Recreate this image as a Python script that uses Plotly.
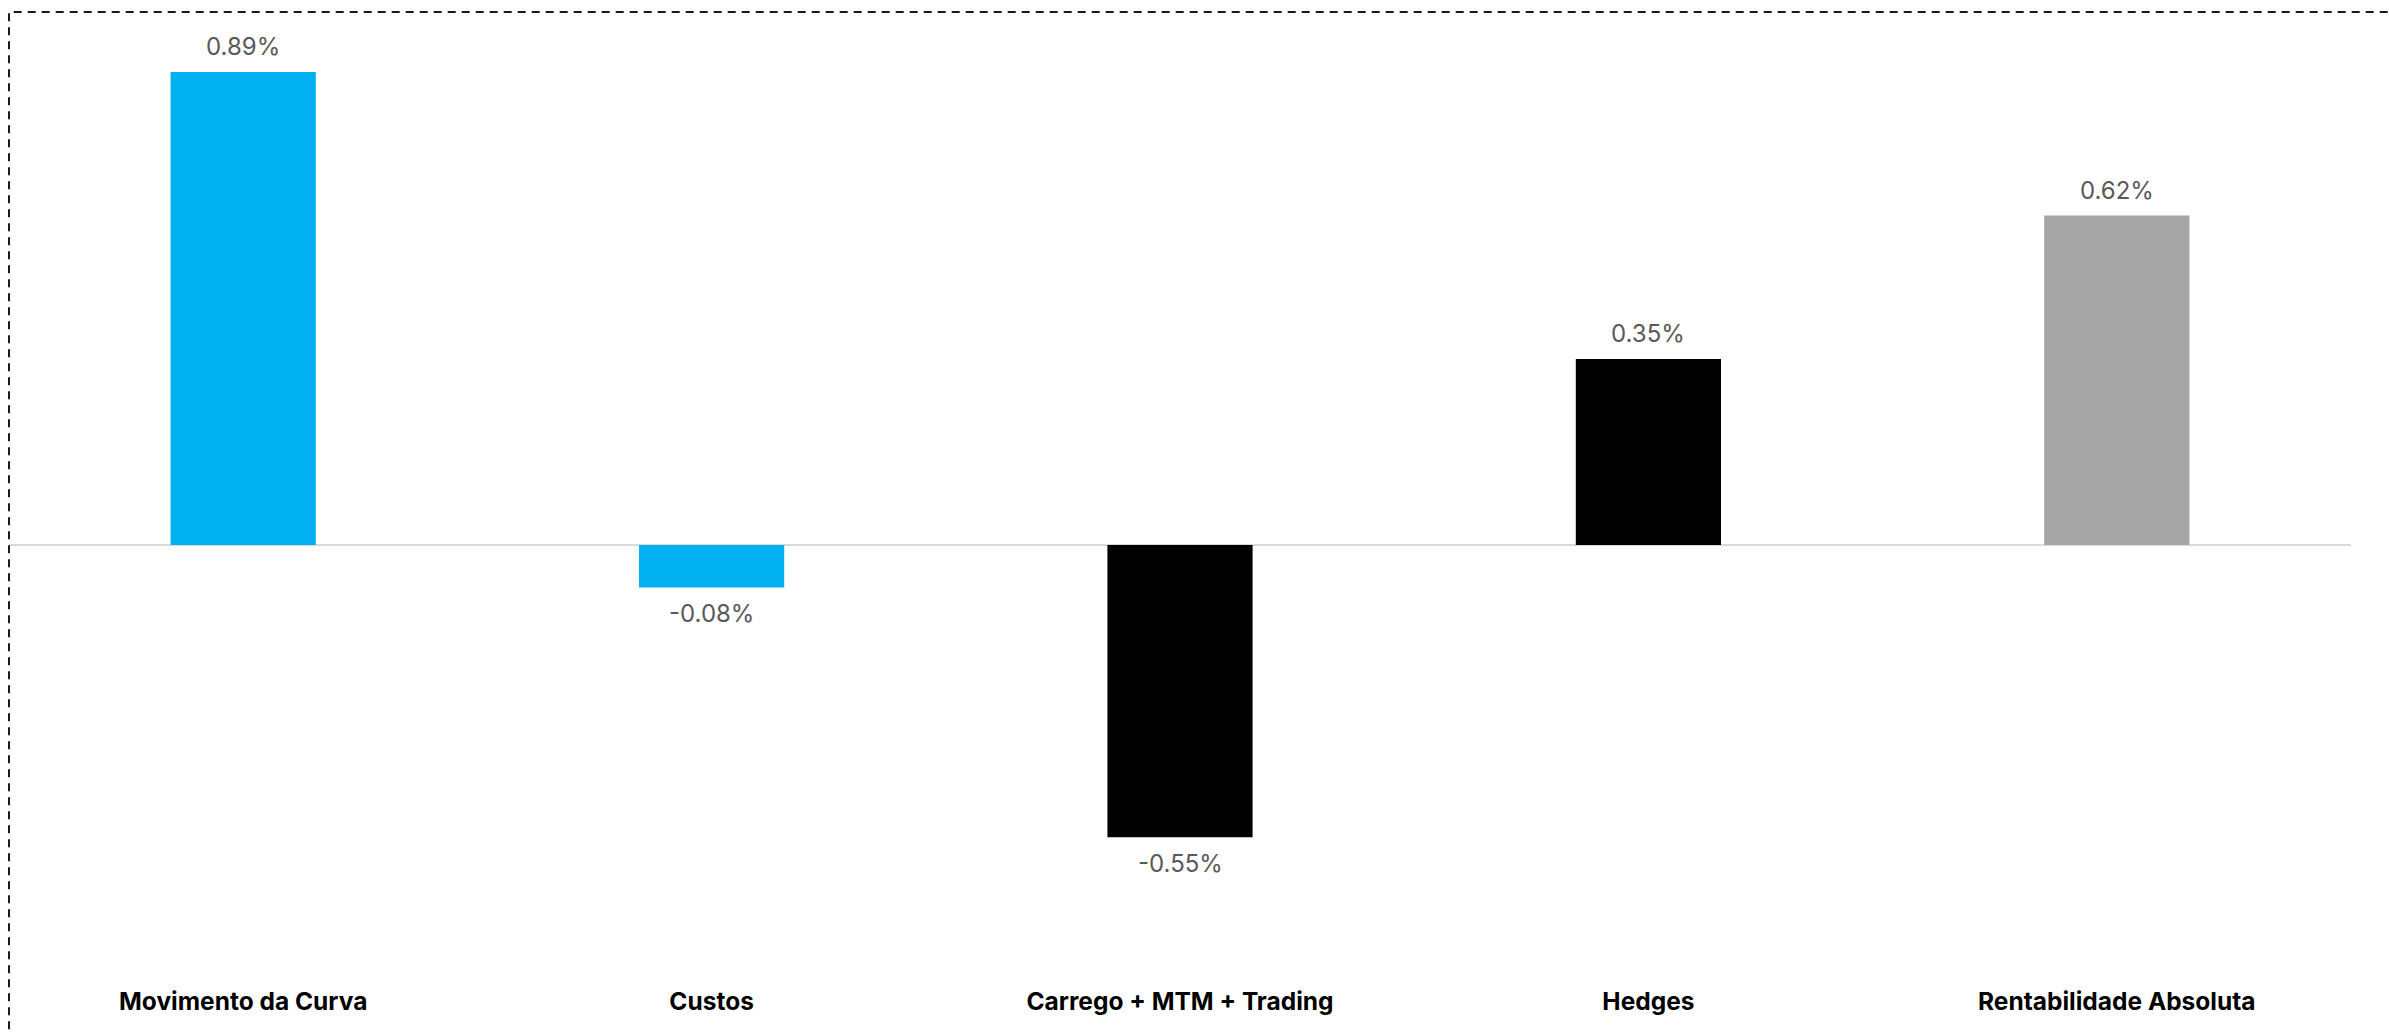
import plotly.graph_objects as go

categories = ["Movimento da Curva", "Custos", "Carrego + MTM + Trading", "Hedges", "Rentabilidade Absoluta"]
values = [0.89, -0.08, -0.55, 0.35, 0.62]
colors = ["#00B0F0", "#00B0F0", "#000000", "#000000", "#A6A6A6"]

FONT = "Inter, Open Sans, sans-serif"

fig = go.Figure(go.Bar(
    x=categories,
    y=values,
    marker=dict(color=colors, line=dict(width=0)),
    hoverinfo="x+y",
))

for c, v in zip(categories, values):
    fig.add_annotation(
        x=c, y=v, xref="x", yref="y",
        text=f"{v:.2f}%", showarrow=False,
        yanchor="middle", yshift=25 if v >= 0 else -26,
        font=dict(family=FONT, size=24, color="#595959"),
    )

W, H = 2389, 1035
ml, mr, mt, mb = 9, 38, 12, 60
zero_px = 545
scale = 531.5
ymax = (zero_px - mt) / scale
ymin = -(H - mb - zero_px) / scale

fig.update_layout(
    width=W, height=H,
    margin=dict(l=ml, r=mr, t=mt, b=mb),
    paper_bgcolor="white", plot_bgcolor="white",
    bargap=0.69,
    showlegend=False,
    xaxis=dict(
        showgrid=False, showline=False, zeroline=False, ticks="",
        ticklabelstandoff=9,
        tickfont=dict(family=FONT, size=24.5, color="#000000", weight="bold"),
    ),
    yaxis=dict(
        range=[ymin, ymax], showgrid=False, showticklabels=False, showline=False,
        zeroline=True, zerolinecolor="#D9D9D9", zerolinewidth=2,
    ),
    shapes=[dict(
        type="rect", xref="paper", yref="paper",
        x0=0, x1=1.2, y0=-0.3, y1=1,
        line=dict(color="#1A1A1A", width=2, dash="8px,6px"),
        fillcolor="rgba(0,0,0,0)", layer="above",
    )],
)

fig.write_html("out.html", config={"displayModeBar": False})
